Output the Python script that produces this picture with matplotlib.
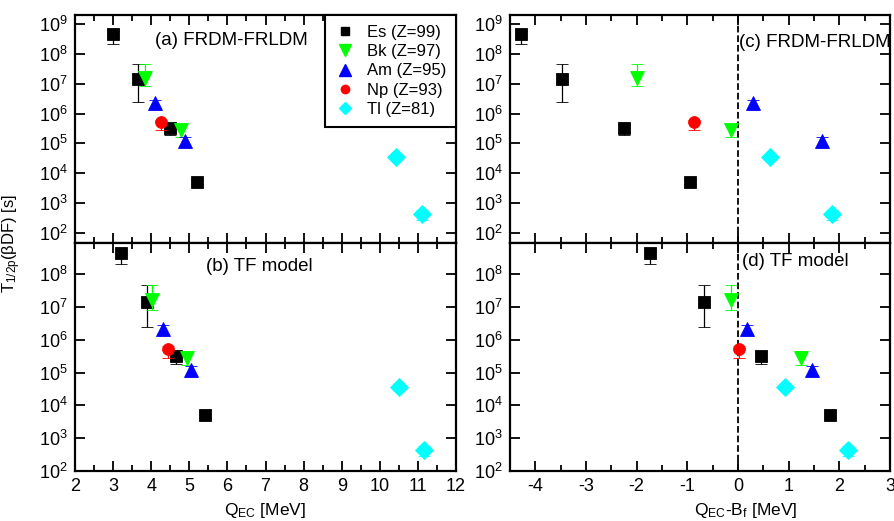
import numpy as np
import matplotlib.pyplot as plt
from matplotlib.lines import Line2D
from matplotlib.ticker import MultipleLocator, NullLocator

plt.rcParams['font.family'] = ['Liberation Sans', 'DejaVu Sans']
plt.rcParams['mathtext.fontset'] = 'custom'
plt.rcParams['mathtext.rm'] = 'Liberation Sans'
plt.rcParams['mathtext.it'] = 'Liberation Sans:italic'
plt.rcParams['axes.unicode_minus'] = False

# legend / style per nuclide
names = ['Es (Z=99)', 'Bk (Z=97)', 'Am (Z=95)', 'Np (Z=93)', 'Tl (Z=81)']
colors = ['black', '#00ff00', '#0000ff', '#ff0000', '#00ffff']
markers = ['s', 'v', '^', 'o', 'D']

# partial half-lives T1/2p(bDF) [s] with lower / upper error limits
es_t = [4.5e8, 1.4e7, 3.2e5, 5.0e3]
es_lo = [2.1e8, 2.5e6, 1.9e5, 4.2e3]
es_hi = [6.0e8, 4.6e7, 4.6e5, 6.0e3]
bk_t = [1.6e7, 2.8e5]
bk_lo = [8.3e6, 1.7e5]
bk_hi = [4.6e7, 4.6e5]
am_t = [2.2e6, 1.2e5]
am_lo = [1.5e6, 8.0e4]
am_hi = [2.8e6, 1.6e5]
np_t = [5.1e5]
np_lo = [2.8e5]
np_hi = [6.3e5]
tl_t = [3.6e4, 4.3e2]
tl_lo = [3.0e4, 2.8e2]
tl_hi = [4.3e4, 5.8e2]

# Q_EC, FRDM-FRLDM (a)
es_q_frdm = [3.00, 3.66, 4.49, 5.21]
bk_q_frdm = [3.83, 4.77]
am_q_frdm = [4.09, 4.88]
np_q_frdm = [4.25]
tl_q_frdm = [10.42, 11.12]
# Q_EC, TF model (b)
es_q_tf = [3.20, 3.88, 4.66, 5.40]
bk_q_tf = [4.03, 4.95]
am_q_tf = [4.31, 5.04]
np_q_tf = [4.43]
tl_q_tf = [10.51, 11.16]
# Q_EC - B_f, FRDM-FRLDM (c)
es_qb_frdm = [-4.28, -3.48, -2.25, -0.94]
bk_qb_frdm = [-2.00, -0.14]
am_qb_frdm = [0.29, 1.66]
np_qb_frdm = [-0.86]
tl_qb_frdm = [0.63, 1.85]
# Q_EC - B_f, TF model (d)
es_qb_tf = [-1.74, -0.67, 0.45, 1.82]
bk_qb_tf = [-0.14, 1.25]
am_qb_tf = [0.17, 1.47]
np_qb_tf = [0.01]
tl_qb_tf = [0.92, 2.17]

T = [es_t, bk_t, am_t, np_t, tl_t]
LO = [es_lo, bk_lo, am_lo, np_lo, tl_lo]
HI = [es_hi, bk_hi, am_hi, np_hi, tl_hi]
panels = [
    ([es_q_frdm, bk_q_frdm, am_q_frdm, np_q_frdm, tl_q_frdm], '(a) FRDM-FRLDM'),
    ([es_q_tf, bk_q_tf, am_q_tf, np_q_tf, tl_q_tf], '(b) TF model'),
    ([es_qb_frdm, bk_qb_frdm, am_qb_frdm, np_qb_frdm, tl_qb_frdm], '(c) FRDM-FRLDM'),
    ([es_qb_tf, bk_qb_tf, am_qb_tf, np_qb_tf, tl_qb_tf], '(d) TF model'),
]

msizes = [8.0, 10.5, 10.5, 8.5, 9.0]
leg_sizes = [5.5, 9.0, 9.0, 6.0, 6.5]

fig = plt.figure(figsize=(8.94, 5.21), dpi=100)
W, H = 894.0, 521.0
def box(x0, x1, y0, y1):
    return [x0 / W, 1 - y1 / H, (x1 - x0) / W, (y1 - y0) / H]

axa = fig.add_axes(box(75, 456, 15, 243))
axb = fig.add_axes(box(75, 456, 243, 471))
axc = fig.add_axes(box(510, 890, 15, 243))
axd = fig.add_axes(box(510, 890, 243, 471))
axes = [axa, axb, axc, axd]
text_pos = [(0.21, 0.89), (0.345, 0.895), (0.603, 0.878), (0.61, 0.92)]

for i, ax in enumerate(axes):
    xs, label = panels[i]
    for k in range(5):
        t = np.array(T[k])
        yerr = [t - np.array(LO[k]), np.array(HI[k]) - t]
        ax.errorbar(xs[k], t, yerr=yerr, fmt=markers[k], color=colors[k],
                    ms=msizes[k], mec=colors[k], mew=0.6, elinewidth=0.9,
                    capsize=4, capthick=0.9, zorder=3 + k)
    ax.set_yscale('log')
    ax.set_yticks([10.0 ** e for e in range(2, 10)])
    ax.yaxis.set_minor_locator(NullLocator())
    ax.xaxis.set_major_locator(MultipleLocator(1))
    ax.xaxis.set_minor_locator(MultipleLocator(0.5))
    ax.tick_params(which='both', direction='in', top=True, right=True,
                   width=1.3, labelsize=13, pad=5)
    ax.tick_params(which='major', length=7)
    ax.tick_params(which='minor', length=4)
    for s in ax.spines.values():
        s.set_linewidth(1.6)
    ax.text(text_pos[i][0], text_pos[i][1], label, transform=ax.transAxes,
            fontsize=13.5, va='center', ha='left')

for ax in (axa, axc):
    ax.set_ylim(46, 2.0e9)
    ax.tick_params(labelbottom=False)
for ax in (axb, axd):
    ax.set_ylim(1e2, 9e8)
for ax in (axa, axb):
    ax.set_xlim(2, 12)
for ax in (axc, axd):
    ax.set_xlim(-4.5, 3)
    ax.axvline(0, color='black', ls='--', lw=1.3, zorder=2)

axb.set_xlabel('Q$_{\\mathrm{EC}}$ [MeV]', fontsize=12.5)
axd.set_xlabel('Q$_{\\mathrm{EC}}$-B$_{\\mathrm{f}}$ [MeV]', fontsize=12.5)
axd.xaxis.set_label_coords(0.62, -0.13)
axb.xaxis.set_label_coords(0.5, -0.13)
fig.text(12 / W, 1 - 243 / H, 'T$_{\\mathrm{1/2p}}$(βDF) [s]', rotation=90,
         fontsize=12, ha='center', va='center')

handles = [Line2D([], [], marker=markers[k], color=colors[k], ls='none',
                  ms=leg_sizes[k]) for k in range(5)]
leg = axa.legend(handles, names, loc='upper right', borderaxespad=0,
                 fancybox=False, edgecolor='black', framealpha=1, fontsize=12,
                 labelspacing=0.25, handlelength=1.2, handletextpad=0.7,
                 borderpad=0.6)
leg.get_frame().set_linewidth(1.5)

fig.savefig('out.png', dpi=100)
